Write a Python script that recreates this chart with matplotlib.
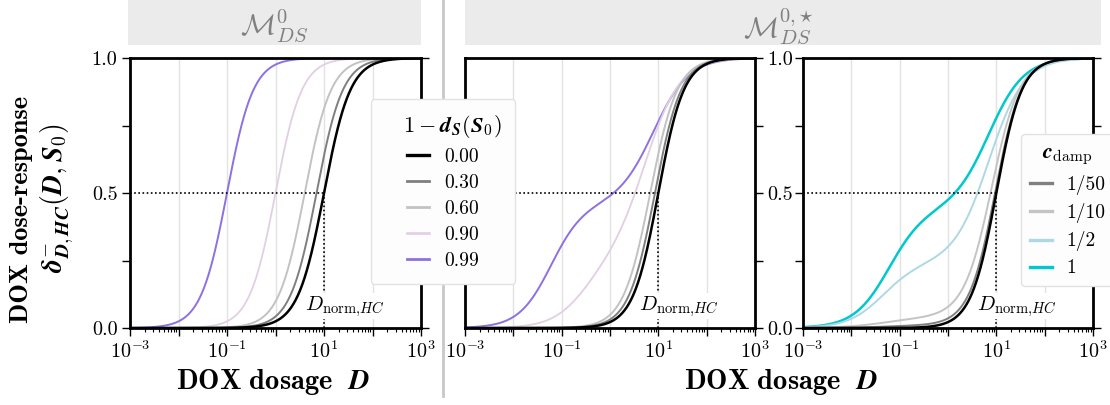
import numpy as np
import matplotlib
matplotlib.use("Agg")
import matplotlib.pyplot as plt
from matplotlib.patches import Rectangle
from matplotlib.lines import Line2D
from matplotlib.ticker import LogLocator, FixedLocator, FuncFormatter, NullFormatter

plt.rcParams.update({
    "font.family": "serif",
    "font.serif": ["cmr10"],
    "mathtext.fontset": "cm",
    "axes.formatter.use_mathtext": True,
    "axes.unicode_minus": False,
})

# ---------------------------------------------------------------- data
# 1 - d_S(S_0) levels (left and middle panels)
levels = ["0.00", "0.30", "0.60", "0.90", "0.99"]
level_colors = ["#000000", "#7f7f7f", "#c2c2c2", "#e2cfe4", "#8e70e0"]
level_widths = [1.8, 1.4, 1.4, 1.3, 1.4]

# M^0_DS: single Hill curves, EC50 shifted by the sensitivity level
base_ec50 = [10.0, 7.0, 4.0, 1.0, 0.1]
base_hill = [1.6, 1.6, 1.6, 1.6, 1.6]

# M^{0,*}_DS: sensitive (low-dose) + resistant (high-dose) Hill components
mid_weight = [0.0, 0.0, 0.0, 0.25, 0.46]
mid_ec_low = [1.0, 1.0, 1.0, 0.3, 0.06]
mid_n_low = [1.6, 1.6, 1.6, 1.2, 1.3]
mid_ec_high = [10.0, 8.5, 6.8, 5.5, 8.0]
mid_n_high = [1.65, 1.6, 1.55, 1.2, 1.2]

# M^{0,*}_DS at 1 - d_S = 0.99 for several damping constants
damp_labels = ["1/50", "1/10", "1/2", "1"]
damp_colors = ["#808080", "#c4c4c4", "#aed8e6", "#00c8cc"]
damp_widths = [1.4, 1.4, 1.4, 1.8]
damp_weight = [0.01, 0.04, 0.24, 0.44]
damp_ec_low = [0.05, 0.05, 0.045, 0.06]
damp_n_low = [1.0, 1.0, 1.2, 1.2]
damp_ec_high = [9.5, 8.0, 7.0, 7.0]
damp_n_high = [1.6, 1.5, 1.2, 1.2]

d_norm = 10.0
dose = np.logspace(-3, 3, 800)


def hill(d, ec, n):
    r = (d / ec) ** n
    return r / (1.0 + r)


def mixture(d, w, ec1, n1, ec2, n2):
    return w * hill(d, ec1, n1) + (1.0 - w) * hill(d, ec2, n2)


# ---------------------------------------------------------------- figure
fig = plt.figure(figsize=(11.10, 4.05), dpi=100)
W, H = 1110.0, 405.0


def fx(px):
    return px / W


def fy(py):
    return 1.0 - py / H


bottom, height = fy(328), 270 / H
ax_l = fig.add_axes([fx(130), bottom, 291 / W, height])
ax_m = fig.add_axes([fx(465), bottom, 290 / W, height])
ax_r = fig.add_axes([fx(803), bottom, 290 / W, height])


def xfmt(v, _):
    e = int(round(np.log10(v)))
    return r"$10^{%d}$" % e if e % 2 else ""


def yfmt(v, _):
    return "%.1f" % v if abs(v * 2 - round(v * 2)) < 1e-6 else ""


for ax in (ax_l, ax_m, ax_r):
    ax.set_xscale("log")
    ax.set_xlim(1e-3, 1e3)
    ax.set_ylim(0, 1)
    ax.xaxis.set_major_locator(LogLocator(base=10, numticks=20))
    ax.xaxis.set_minor_locator(LogLocator(base=10, subs=np.arange(2, 10), numticks=20))
    ax.xaxis.set_major_formatter(FuncFormatter(xfmt))
    ax.xaxis.set_minor_formatter(NullFormatter())
    ax.yaxis.set_major_locator(FixedLocator([0, 0.25, 0.5, 0.75, 1.0]))
    ax.yaxis.set_major_formatter(FuncFormatter(yfmt))
    ax.grid(axis="x", which="major", color="#e2e2e2", lw=1.0, zorder=0)
    for s in ax.spines.values():
        s.set_linewidth(2.0)
        s.set_zorder(6)
    ax.tick_params(which="major", direction="out", length=6, width=1.0,
                   labelsize=14.5, pad=3)
    ax.tick_params(which="minor", direction="out", length=3, width=0.8)
    ax.plot([1e-3, d_norm], [0.5, 0.5], ls=(0, (1, 1.5)), color="k", lw=1.2, zorder=3)
    ax.plot([d_norm, d_norm], [0, 0.5], ls=(0, (1, 1.5)), color="k", lw=1.2, zorder=3)
    ax.text(10 ** 1.43, 0.08, r"$D_{\mathrm{norm}{,}HC}$", ha="center", va="center",
            fontsize=15, zorder=4,
            bbox=dict(fc="white", ec="none", pad=0.5))

ax_l.tick_params(axis="y", left=True, right=True, labelleft=True, labelright=False)
ax_m.tick_params(axis="y", left=False, right=True, labelleft=False, labelright=True)
ax_r.tick_params(axis="y", left=True, right=True, labelleft=False, labelright=False)

# left panel
for i in reversed(range(len(levels))):
    y = hill(dose, base_ec50[i], base_hill[i])
    ax_l.plot(dose, y, color=level_colors[i], lw=level_widths[i], zorder=2 + (5 - i) * 0.01)
handles = [Line2D([], [], color=level_colors[i], lw=level_widths[i] + 0.6, label=levels[i])
           for i in range(len(levels))]

# middle panel
for i in reversed(range(len(levels))):
    y = mixture(dose, mid_weight[i], mid_ec_low[i], mid_n_low[i],
                mid_ec_high[i], mid_n_high[i])
    ax_m.plot(dose, y, color=level_colors[i], lw=level_widths[i], zorder=2 + (5 - i) * 0.01)

# right panel (undamped reference drawn in black)
for i in reversed(range(len(damp_labels))):
    y = mixture(dose, damp_weight[i], damp_ec_low[i], damp_n_low[i],
                damp_ec_high[i], damp_n_high[i])
    ax_r.plot(dose, y, color=damp_colors[i], lw=damp_widths[i], zorder=2)
ax_r.plot(dose, hill(dose, mid_ec_high[0], mid_n_high[0]), color="k", lw=1.8, zorder=2.1)
damp_handles = [Line2D([], [], color=damp_colors[i], lw=2.4, label=damp_labels[i])
                for i in range(len(damp_labels))]

# panel headers
fig.add_artist(Rectangle((fx(128), fy(45)), 293 / W, 45 / H, transform=fig.transFigure,
                         fc="#ebebeb", ec="none", zorder=0))
fig.add_artist(Rectangle((fx(465), fy(45)), 636 / W, 45 / H, transform=fig.transFigure,
                         fc="#ebebeb", ec="none", zorder=0))
fig.text(fx(274), fy(26), r"$\mathcal{M}^{0}_{DS}$", ha="center", va="center",
         fontsize=21, color="#808080")
fig.text(fx(779), fy(26), r"$\mathcal{M}^{0{,}\star}_{DS}$", ha="center", va="center",
         fontsize=21, color="#808080")

# separator
fig.add_artist(Line2D([fx(443), fx(443)], [fy(0), fy(396)], transform=fig.transFigure,
                      color="#c8c8c8", lw=2.0, zorder=0))

# axis labels
fig.text(fx(273), fy(382), r"$\mathbf{DOX\ dosage}\ \ \mathbfit{D}$",
         ha="center", va="center", fontsize=20.5)
fig.text(fx(781), fy(382), r"$\mathbf{DOX\ dosage}\ \ \mathbfit{D}$",
         ha="center", va="center", fontsize=20.5)
fig.text(fx(22), fy(209), "DOX dose-response", fontfamily="cmb10",
         ha="center", va="center", rotation=90, fontsize=19)
fig.text(fx(57), fy(198),
         r"$\mathbfit{\delta}^{-}_{\mathbfit{D},\mathbfit{HC}}(\mathbfit{D},\mathbfit{S}_{\mathbf{0}})$",
         ha="center", va="center", rotation=90, fontsize=20)

# legends
leg_kw = dict(fontsize=14, title_fontsize=16, handlelength=1.15, handletextpad=0.75,
              labelspacing=0.42, framealpha=1.0, fancybox=True, borderaxespad=0.0,
              edgecolor="#e2e2e2", facecolor="#fdfdfd")
leg1 = fig.legend(handles=handles, loc="center", bbox_to_anchor=(fx(443), fy(191.5)),
                  title=r"$\quad\mathbf{1}-\mathbfit{d}_{\mathbfit{S}}(\mathbfit{S}_{\mathbf{0}})\quad$",
                  borderpad=0.7, **leg_kw)
leg1.set_zorder(20)
leg2 = fig.legend(handles=damp_handles, loc="center left", bbox_to_anchor=(fx(1021), fy(210)),
                  title=r"$\mathbfit{c}_{\mathrm{damp}}$", borderpad=0.45, **leg_kw)
leg2.set_zorder(20)

fig.savefig("out.png", dpi=100)
